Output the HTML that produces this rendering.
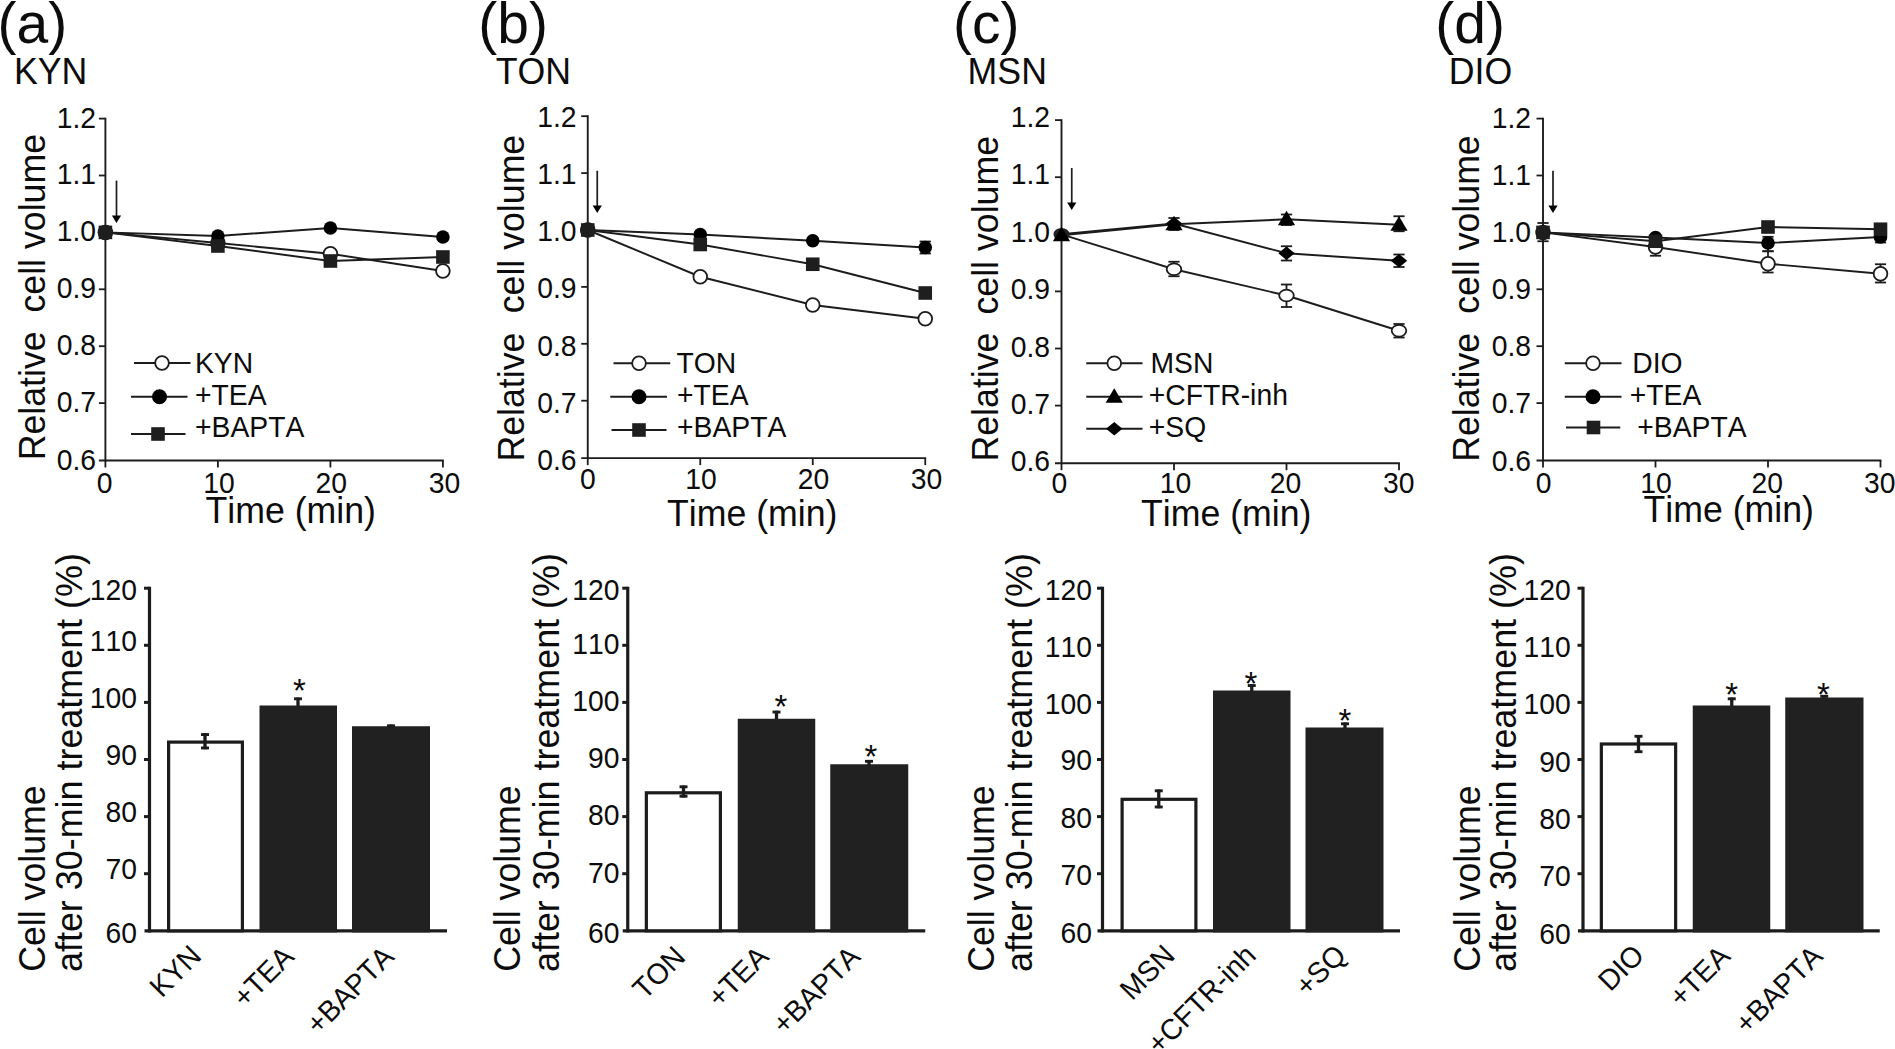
<!DOCTYPE html>
<html lang="en"><head><meta charset="utf-8"><title>Figure: relative cell volume</title>
<style>
html,body{margin:0;padding:0;background:#fff;}
body{width:1895px;height:1049px;overflow:hidden;}
svg{display:block;font-family:"Liberation Sans",Arial,Helvetica,sans-serif;}
svg text{fill:#0c0c0c;stroke:none;font-kerning:none;}
</style></head><body>
<svg width="1895" height="1049" viewBox="0 0 1895 1049" stroke="#1c1c1c" fill="none">
<rect x="0" y="0" width="1895" height="1049" fill="#fff" stroke="none"/>
<line x1="105.40" y1="117.70" x2="105.40" y2="461.40" stroke-width="1.9"/>
<line x1="98.90" y1="460.50" x2="443.80" y2="460.50" stroke-width="1.9"/>
<line x1="98.90" y1="118.60" x2="105.40" y2="118.60" stroke-width="1.8"/>
<line x1="98.90" y1="175.50" x2="105.40" y2="175.50" stroke-width="1.8"/>
<line x1="98.90" y1="232.40" x2="105.40" y2="232.40" stroke-width="1.8"/>
<line x1="98.90" y1="289.30" x2="105.40" y2="289.30" stroke-width="1.8"/>
<line x1="98.90" y1="346.20" x2="105.40" y2="346.20" stroke-width="1.8"/>
<line x1="98.90" y1="403.10" x2="105.40" y2="403.10" stroke-width="1.8"/>
<line x1="105.40" y1="460.50" x2="105.40" y2="467.50" stroke-width="1.8"/>
<line x1="217.90" y1="460.50" x2="217.90" y2="467.50" stroke-width="1.8"/>
<line x1="330.40" y1="460.50" x2="330.40" y2="467.50" stroke-width="1.8"/>
<line x1="442.90" y1="460.50" x2="442.90" y2="467.50" stroke-width="1.8"/>
<text transform="translate(96.00,127.50) scale(1.0,1.04)" font-size="28.3" text-anchor="end">1.2</text>
<text transform="translate(96.00,184.30) scale(1.0,1.04)" font-size="28.3" text-anchor="end">1.1</text>
<text transform="translate(96.00,241.10) scale(1.0,1.04)" font-size="28.3" text-anchor="end">1.0</text>
<text transform="translate(96.00,297.90) scale(1.0,1.04)" font-size="28.3" text-anchor="end">0.9</text>
<text transform="translate(96.00,355.30) scale(1.0,1.04)" font-size="28.3" text-anchor="end">0.8</text>
<text transform="translate(96.00,412.10) scale(1.0,1.04)" font-size="28.3" text-anchor="end">0.7</text>
<text transform="translate(96.00,469.50) scale(1.0,1.04)" font-size="28.3" text-anchor="end">0.6</text>
<text transform="translate(104.50,492.50) scale(1.0,1.04)" font-size="28.3" text-anchor="middle">0</text>
<text transform="translate(219.00,492.50) scale(1.0,1.04)" font-size="28.3" text-anchor="middle">10</text>
<text transform="translate(331.20,492.50) scale(1.0,1.04)" font-size="28.3" text-anchor="middle">20</text>
<text transform="translate(444.50,492.50) scale(1.0,1.04)" font-size="28.3" text-anchor="middle">30</text>
<text transform="translate(205.50,522.50) scale(1.0,1.02)" font-size="35.7" text-anchor="start">Time (min)</text>
<text transform="translate(45.00,460.30) rotate(-90) scale(1.0,1.02)" font-size="35.7" text-anchor="start">Relative</text>
<text transform="translate(45.00,312.50) rotate(-90) scale(1.0,1.02)" font-size="35.7" text-anchor="start">cell volume</text>
<line x1="116.50" y1="180.60" x2="116.50" y2="217.00" stroke-width="1.7"/>
<path d="M111.90 215.40 L121.10 215.40 L116.50 223.00 Z" fill="#000" stroke="none"/>
<polyline points="105.40,232.40 217.90,243.00 330.40,253.75 442.90,271.00" fill="none" stroke-width="1.9"/>
<polyline points="105.40,232.40 217.90,236.00 330.40,228.00 442.90,237.00" fill="none" stroke-width="1.9"/>
<polyline points="105.40,232.40 217.90,246.00 330.40,261.00 442.90,257.00" fill="none" stroke-width="1.9"/>
<circle cx="105.40" cy="232.40" r="6.85" fill="#fff" stroke-width="1.8"/>
<circle cx="217.90" cy="243.00" r="6.85" fill="#fff" stroke-width="1.8"/>
<circle cx="330.40" cy="253.75" r="6.85" fill="#fff" stroke-width="1.8"/>
<circle cx="442.90" cy="271.00" r="6.85" fill="#fff" stroke-width="1.8"/>
<circle cx="105.40" cy="232.40" r="6.8" fill="#000" stroke="none"/>
<circle cx="217.90" cy="236.00" r="6.8" fill="#000" stroke="none"/>
<circle cx="330.40" cy="228.00" r="6.8" fill="#000" stroke="none"/>
<circle cx="442.90" cy="237.00" r="6.8" fill="#000" stroke="none"/>
<rect x="98.60" y="225.60" width="13.6" height="13.6" fill="#1e1e1e" stroke="none"/>
<rect x="211.10" y="239.20" width="13.6" height="13.6" fill="#1e1e1e" stroke="none"/>
<rect x="323.60" y="254.20" width="13.6" height="13.6" fill="#1e1e1e" stroke="none"/>
<rect x="436.10" y="250.20" width="13.6" height="13.6" fill="#1e1e1e" stroke="none"/>
<circle cx="105.40" cy="232.40" r="7.6" fill="#1e1e1e" stroke="none"/>
<line x1="134.00" y1="363.00" x2="190.50" y2="363.00" stroke-width="1.9"/>
<circle cx="162.00" cy="363.00" r="6.85" fill="#fff" stroke-width="1.8"/>
<text transform="translate(195.00,372.80) scale(1.0,1.03)" font-size="28.3" text-anchor="start">KYN</text>
<line x1="131.00" y1="396.75" x2="187.50" y2="396.75" stroke-width="1.9"/>
<circle cx="159.50" cy="396.75" r="7.5" fill="#000" stroke="none"/>
<text transform="translate(195.00,404.55) scale(1.0,1.03)" font-size="28.3" text-anchor="start">+TEA</text>
<line x1="131.00" y1="434.00" x2="185.50" y2="434.00" stroke-width="1.9"/>
<rect x="151.20" y="427.20" width="13.6" height="13.6" fill="#1e1e1e" stroke="none"/>
<text transform="translate(195.00,436.80) scale(1.0,1.03)" font-size="28.3" text-anchor="start">+BAPTA</text>
<line x1="587.75" y1="115.30" x2="587.75" y2="459.00" stroke-width="1.9"/>
<line x1="581.25" y1="458.10" x2="926.15" y2="458.10" stroke-width="1.9"/>
<line x1="581.25" y1="116.20" x2="587.75" y2="116.20" stroke-width="1.8"/>
<line x1="581.25" y1="173.10" x2="587.75" y2="173.10" stroke-width="1.8"/>
<line x1="581.25" y1="230.00" x2="587.75" y2="230.00" stroke-width="1.8"/>
<line x1="581.25" y1="286.90" x2="587.75" y2="286.90" stroke-width="1.8"/>
<line x1="581.25" y1="343.80" x2="587.75" y2="343.80" stroke-width="1.8"/>
<line x1="581.25" y1="400.70" x2="587.75" y2="400.70" stroke-width="1.8"/>
<line x1="587.75" y1="458.10" x2="587.75" y2="465.10" stroke-width="1.8"/>
<line x1="700.25" y1="458.10" x2="700.25" y2="465.10" stroke-width="1.8"/>
<line x1="812.75" y1="458.10" x2="812.75" y2="465.10" stroke-width="1.8"/>
<line x1="925.25" y1="458.10" x2="925.25" y2="465.10" stroke-width="1.8"/>
<text transform="translate(576.50,127.10) scale(1.0,1.04)" font-size="28.3" text-anchor="end">1.2</text>
<text transform="translate(576.50,184.00) scale(1.0,1.04)" font-size="28.3" text-anchor="end">1.1</text>
<text transform="translate(576.50,240.80) scale(1.0,1.04)" font-size="28.3" text-anchor="end">1.0</text>
<text transform="translate(576.50,297.90) scale(1.0,1.04)" font-size="28.3" text-anchor="end">0.9</text>
<text transform="translate(576.50,355.90) scale(1.0,1.04)" font-size="28.3" text-anchor="end">0.8</text>
<text transform="translate(576.50,412.60) scale(1.0,1.04)" font-size="28.3" text-anchor="end">0.7</text>
<text transform="translate(576.50,469.50) scale(1.0,1.04)" font-size="28.3" text-anchor="end">0.6</text>
<text transform="translate(587.75,489.00) scale(1.0,1.04)" font-size="28.3" text-anchor="middle">0</text>
<text transform="translate(701.00,489.00) scale(1.0,1.04)" font-size="28.3" text-anchor="middle">10</text>
<text transform="translate(813.50,489.00) scale(1.0,1.04)" font-size="28.3" text-anchor="middle">20</text>
<text transform="translate(926.50,489.00) scale(1.0,1.04)" font-size="28.3" text-anchor="middle">30</text>
<text transform="translate(667.00,525.50) scale(1.0,1.02)" font-size="35.7" text-anchor="start">Time (min)</text>
<text transform="translate(524.00,461.60) rotate(-90) scale(1.0,1.02)" font-size="35.7" text-anchor="start">Relative</text>
<text transform="translate(524.00,313.30) rotate(-90) scale(1.0,1.02)" font-size="35.7" text-anchor="start">cell volume</text>
<line x1="597.25" y1="170.75" x2="597.25" y2="207.00" stroke-width="1.7"/>
<path d="M592.65 205.40 L601.85 205.40 L597.25 213.00 Z" fill="#000" stroke="none"/>
<polyline points="587.75,230.00 700.25,276.75 812.75,305.00 925.25,318.75" fill="none" stroke-width="1.9"/>
<polyline points="587.75,230.00 700.25,234.50 812.75,240.75 925.25,247.50" fill="none" stroke-width="1.9"/>
<polyline points="587.75,230.00 700.25,244.50 812.75,264.25 925.25,293.00" fill="none" stroke-width="1.9"/>
<circle cx="587.75" cy="230.00" r="6.85" fill="#fff" stroke-width="1.8"/>
<circle cx="700.25" cy="276.75" r="6.85" fill="#fff" stroke-width="1.8"/>
<circle cx="812.75" cy="305.00" r="6.85" fill="#fff" stroke-width="1.8"/>
<circle cx="925.25" cy="318.75" r="6.85" fill="#fff" stroke-width="1.8"/>
<line x1="925.25" y1="241.50" x2="925.25" y2="253.50" stroke-width="1.8"/>
<line x1="919.65" y1="241.50" x2="930.85" y2="241.50" stroke-width="1.8"/>
<line x1="919.65" y1="253.50" x2="930.85" y2="253.50" stroke-width="1.8"/>
<circle cx="587.75" cy="230.00" r="6.8" fill="#000" stroke="none"/>
<circle cx="700.25" cy="234.50" r="6.8" fill="#000" stroke="none"/>
<circle cx="812.75" cy="240.75" r="6.8" fill="#000" stroke="none"/>
<circle cx="925.25" cy="247.50" r="6.8" fill="#000" stroke="none"/>
<rect x="580.95" y="223.20" width="13.6" height="13.6" fill="#1e1e1e" stroke="none"/>
<rect x="693.45" y="237.70" width="13.6" height="13.6" fill="#1e1e1e" stroke="none"/>
<rect x="805.95" y="257.45" width="13.6" height="13.6" fill="#1e1e1e" stroke="none"/>
<rect x="918.45" y="286.20" width="13.6" height="13.6" fill="#1e1e1e" stroke="none"/>
<circle cx="587.75" cy="230.00" r="7.6" fill="#1e1e1e" stroke="none"/>
<line x1="613.50" y1="363.25" x2="670.25" y2="363.25" stroke-width="1.9"/>
<circle cx="639.00" cy="363.25" r="6.85" fill="#fff" stroke-width="1.8"/>
<text transform="translate(676.50,372.80) scale(1.0,1.03)" font-size="28.3" text-anchor="start">TON</text>
<line x1="610.25" y1="396.75" x2="667.00" y2="396.75" stroke-width="1.9"/>
<circle cx="639.00" cy="396.75" r="7.5" fill="#000" stroke="none"/>
<text transform="translate(677.00,404.55) scale(1.0,1.03)" font-size="28.3" text-anchor="start">+TEA</text>
<line x1="611.50" y1="430.00" x2="666.50" y2="430.00" stroke-width="1.9"/>
<rect x="632.20" y="423.20" width="13.6" height="13.6" fill="#1e1e1e" stroke="none"/>
<text transform="translate(677.00,437.05) scale(1.0,1.03)" font-size="28.3" text-anchor="start">+BAPTA</text>
<line x1="1061.50" y1="119.20" x2="1061.50" y2="464.10" stroke-width="1.9"/>
<line x1="1055.00" y1="463.20" x2="1399.90" y2="463.20" stroke-width="1.9"/>
<line x1="1055.00" y1="120.10" x2="1061.50" y2="120.10" stroke-width="1.8"/>
<line x1="1055.00" y1="177.20" x2="1061.50" y2="177.20" stroke-width="1.8"/>
<line x1="1055.00" y1="234.30" x2="1061.50" y2="234.30" stroke-width="1.8"/>
<line x1="1055.00" y1="291.40" x2="1061.50" y2="291.40" stroke-width="1.8"/>
<line x1="1055.00" y1="348.50" x2="1061.50" y2="348.50" stroke-width="1.8"/>
<line x1="1055.00" y1="405.60" x2="1061.50" y2="405.60" stroke-width="1.8"/>
<line x1="1061.50" y1="463.20" x2="1061.50" y2="470.20" stroke-width="1.8"/>
<line x1="1174.00" y1="463.20" x2="1174.00" y2="470.20" stroke-width="1.8"/>
<line x1="1286.50" y1="463.20" x2="1286.50" y2="470.20" stroke-width="1.8"/>
<line x1="1399.00" y1="463.20" x2="1399.00" y2="470.20" stroke-width="1.8"/>
<text transform="translate(1050.00,126.50) scale(1.0,1.04)" font-size="28.3" text-anchor="end">1.2</text>
<text transform="translate(1050.00,184.20) scale(1.0,1.04)" font-size="28.3" text-anchor="end">1.1</text>
<text transform="translate(1050.00,241.85) scale(1.0,1.04)" font-size="28.3" text-anchor="end">1.0</text>
<text transform="translate(1050.00,298.60) scale(1.0,1.04)" font-size="28.3" text-anchor="end">0.9</text>
<text transform="translate(1050.00,356.80) scale(1.0,1.04)" font-size="28.3" text-anchor="end">0.8</text>
<text transform="translate(1050.00,413.80) scale(1.0,1.04)" font-size="28.3" text-anchor="end">0.7</text>
<text transform="translate(1050.00,471.10) scale(1.0,1.04)" font-size="28.3" text-anchor="end">0.6</text>
<text transform="translate(1059.30,492.80) scale(1.0,1.04)" font-size="28.3" text-anchor="middle">0</text>
<text transform="translate(1175.50,492.80) scale(1.0,1.04)" font-size="28.3" text-anchor="middle">10</text>
<text transform="translate(1285.50,492.80) scale(1.0,1.04)" font-size="28.3" text-anchor="middle">20</text>
<text transform="translate(1398.75,492.80) scale(1.0,1.04)" font-size="28.3" text-anchor="middle">30</text>
<text transform="translate(1141.00,525.50) scale(1.0,1.02)" font-size="35.7" text-anchor="start">Time (min)</text>
<text transform="translate(998.00,461.50) rotate(-90) scale(1.0,1.02)" font-size="35.7" text-anchor="start">Relative</text>
<text transform="translate(998.00,314.50) rotate(-90) scale(1.0,1.02)" font-size="35.7" text-anchor="start">cell volume</text>
<line x1="1071.75" y1="168.00" x2="1071.75" y2="204.00" stroke-width="1.7"/>
<path d="M1067.15 202.40 L1076.35 202.40 L1071.75 210.00 Z" fill="#000" stroke="none"/>
<polyline points="1061.50,234.30 1174.00,269.25 1286.50,295.50 1399.00,330.75" fill="none" stroke-width="1.9"/>
<polyline points="1061.50,234.30 1174.00,223.50 1286.50,253.25 1399.00,260.75" fill="none" stroke-width="1.9"/>
<polyline points="1061.50,235.30 1174.00,224.30 1286.50,219.30 1399.00,224.80" fill="none" stroke-width="1.9"/>
<line x1="1174.00" y1="261.75" x2="1174.00" y2="276.25" stroke-width="1.8"/>
<line x1="1168.40" y1="261.75" x2="1179.60" y2="261.75" stroke-width="1.8"/>
<line x1="1168.40" y1="276.25" x2="1179.60" y2="276.25" stroke-width="1.8"/>
<line x1="1286.50" y1="284.50" x2="1286.50" y2="307.00" stroke-width="1.8"/>
<line x1="1280.90" y1="284.50" x2="1292.10" y2="284.50" stroke-width="1.8"/>
<line x1="1280.90" y1="307.00" x2="1292.10" y2="307.00" stroke-width="1.8"/>
<line x1="1399.00" y1="324.00" x2="1399.00" y2="337.50" stroke-width="1.8"/>
<line x1="1393.40" y1="324.00" x2="1404.60" y2="324.00" stroke-width="1.8"/>
<line x1="1393.40" y1="337.50" x2="1404.60" y2="337.50" stroke-width="1.8"/>
<ellipse cx="1061.50" cy="234.30" rx="8" ry="6.3" fill="#222" stroke="none"/>
<ellipse cx="1174.00" cy="269.25" rx="7.3" ry="5.9" fill="#fff" stroke-width="1.8"/>
<ellipse cx="1286.50" cy="295.50" rx="7.3" ry="5.9" fill="#fff" stroke-width="1.8"/>
<ellipse cx="1399.00" cy="330.75" rx="7.3" ry="5.9" fill="#fff" stroke-width="1.8"/>
<line x1="1286.50" y1="246.25" x2="1286.50" y2="260.50" stroke-width="1.8"/>
<line x1="1280.90" y1="246.25" x2="1292.10" y2="246.25" stroke-width="1.8"/>
<line x1="1280.90" y1="260.50" x2="1292.10" y2="260.50" stroke-width="1.8"/>
<line x1="1399.00" y1="254.50" x2="1399.00" y2="267.00" stroke-width="1.8"/>
<line x1="1393.40" y1="254.50" x2="1404.60" y2="254.50" stroke-width="1.8"/>
<line x1="1393.40" y1="267.00" x2="1404.60" y2="267.00" stroke-width="1.8"/>
<path d="M1174.00 216.70 L1182.20 223.50 L1174.00 230.30 L1165.80 223.50 Z" fill="#000" stroke="none"/>
<path d="M1286.50 246.45 L1294.70 253.25 L1286.50 260.05 L1278.30 253.25 Z" fill="#000" stroke="none"/>
<path d="M1399.00 253.95 L1407.20 260.75 L1399.00 267.55 L1390.80 260.75 Z" fill="#000" stroke="none"/>
<line x1="1174.00" y1="218.00" x2="1174.00" y2="230.00" stroke-width="1.8"/>
<line x1="1168.40" y1="218.00" x2="1179.60" y2="218.00" stroke-width="1.8"/>
<line x1="1168.40" y1="230.00" x2="1179.60" y2="230.00" stroke-width="1.8"/>
<line x1="1286.50" y1="214.50" x2="1286.50" y2="225.00" stroke-width="1.8"/>
<line x1="1280.90" y1="214.50" x2="1292.10" y2="214.50" stroke-width="1.8"/>
<line x1="1280.90" y1="225.00" x2="1292.10" y2="225.00" stroke-width="1.8"/>
<line x1="1399.00" y1="216.25" x2="1399.00" y2="231.25" stroke-width="1.8"/>
<line x1="1393.40" y1="216.25" x2="1404.60" y2="216.25" stroke-width="1.8"/>
<line x1="1393.40" y1="231.25" x2="1404.60" y2="231.25" stroke-width="1.8"/>
<path d="M1061.50 226.80 L1070.10 241.30 L1052.90 241.30 Z" fill="#000" stroke="none"/>
<path d="M1174.00 215.80 L1182.60 230.30 L1165.40 230.30 Z" fill="#000" stroke="none"/>
<path d="M1286.50 210.80 L1295.10 225.30 L1277.90 225.30 Z" fill="#000" stroke="none"/>
<path d="M1399.00 216.30 L1407.60 230.80 L1390.40 230.80 Z" fill="#000" stroke="none"/>
<line x1="1086.25" y1="363.25" x2="1142.50" y2="363.25" stroke-width="1.9"/>
<circle cx="1114.25" cy="363.25" r="6.85" fill="#fff" stroke-width="1.8"/>
<text transform="translate(1150.50,372.80) scale(1.0,1.03)" font-size="28.3" text-anchor="start">MSN</text>
<line x1="1086.25" y1="396.75" x2="1142.50" y2="396.75" stroke-width="1.9"/>
<path d="M1114.25 388.25 L1122.85 402.75 L1105.65 402.75 Z" fill="#000" stroke="none"/>
<text transform="translate(1148.75,404.55) scale(1.0,1.03)" font-size="28.3" text-anchor="start">+CFTR-inh</text>
<line x1="1086.25" y1="428.75" x2="1142.50" y2="428.75" stroke-width="1.9"/>
<path d="M1114.25 421.95 L1122.45 428.75 L1114.25 435.55 L1106.05 428.75 Z" fill="#000" stroke="none"/>
<text transform="translate(1148.75,437.05) scale(1.0,1.03)" font-size="28.3" text-anchor="start">+SQ</text>
<line x1="1543.00" y1="117.70" x2="1543.00" y2="461.40" stroke-width="1.9"/>
<line x1="1536.50" y1="460.50" x2="1881.40" y2="460.50" stroke-width="1.9"/>
<line x1="1536.50" y1="118.60" x2="1543.00" y2="118.60" stroke-width="1.8"/>
<line x1="1536.50" y1="175.50" x2="1543.00" y2="175.50" stroke-width="1.8"/>
<line x1="1536.50" y1="232.40" x2="1543.00" y2="232.40" stroke-width="1.8"/>
<line x1="1536.50" y1="289.30" x2="1543.00" y2="289.30" stroke-width="1.8"/>
<line x1="1536.50" y1="346.20" x2="1543.00" y2="346.20" stroke-width="1.8"/>
<line x1="1536.50" y1="403.10" x2="1543.00" y2="403.10" stroke-width="1.8"/>
<line x1="1543.00" y1="460.50" x2="1543.00" y2="467.50" stroke-width="1.8"/>
<line x1="1655.50" y1="460.50" x2="1655.50" y2="467.50" stroke-width="1.8"/>
<line x1="1768.00" y1="460.50" x2="1768.00" y2="467.50" stroke-width="1.8"/>
<line x1="1880.50" y1="460.50" x2="1880.50" y2="467.50" stroke-width="1.8"/>
<text transform="translate(1531.00,127.50) scale(1.0,1.04)" font-size="28.3" text-anchor="end">1.2</text>
<text transform="translate(1531.00,184.85) scale(1.0,1.04)" font-size="28.3" text-anchor="end">1.1</text>
<text transform="translate(1531.00,241.50) scale(1.0,1.04)" font-size="28.3" text-anchor="end">1.0</text>
<text transform="translate(1531.00,298.50) scale(1.0,1.04)" font-size="28.3" text-anchor="end">0.9</text>
<text transform="translate(1531.00,356.30) scale(1.0,1.04)" font-size="28.3" text-anchor="end">0.8</text>
<text transform="translate(1531.00,413.40) scale(1.0,1.04)" font-size="28.3" text-anchor="end">0.7</text>
<text transform="translate(1531.00,471.00) scale(1.0,1.04)" font-size="28.3" text-anchor="end">0.6</text>
<text transform="translate(1543.50,492.50) scale(1.0,1.04)" font-size="28.3" text-anchor="middle">0</text>
<text transform="translate(1656.00,492.50) scale(1.0,1.04)" font-size="28.3" text-anchor="middle">10</text>
<text transform="translate(1767.25,492.50) scale(1.0,1.04)" font-size="28.3" text-anchor="middle">20</text>
<text transform="translate(1879.75,492.50) scale(1.0,1.04)" font-size="28.3" text-anchor="middle">30</text>
<text transform="translate(1643.50,522.00) scale(1.0,1.02)" font-size="35.7" text-anchor="start">Time (min)</text>
<text transform="translate(1479.00,461.80) rotate(-90) scale(1.0,1.02)" font-size="35.7" text-anchor="start">Relative</text>
<text transform="translate(1479.00,313.80) rotate(-90) scale(1.0,1.02)" font-size="35.7" text-anchor="start">cell volume</text>
<line x1="1553.00" y1="170.75" x2="1553.00" y2="207.00" stroke-width="1.7"/>
<path d="M1548.40 205.40 L1557.60 205.40 L1553.00 213.00 Z" fill="#000" stroke="none"/>
<polyline points="1543.00,232.40 1655.50,247.00 1768.00,263.75 1880.50,273.75" fill="none" stroke-width="1.9"/>
<polyline points="1543.00,232.40 1655.50,237.50 1768.00,243.00 1880.50,237.00" fill="none" stroke-width="1.9"/>
<polyline points="1543.00,232.40 1655.50,241.25 1768.00,227.00 1880.50,229.25" fill="none" stroke-width="1.9"/>
<line x1="1543.00" y1="223.00" x2="1543.00" y2="241.25" stroke-width="1.8"/>
<line x1="1537.40" y1="223.00" x2="1548.60" y2="223.00" stroke-width="1.8"/>
<line x1="1537.40" y1="241.25" x2="1548.60" y2="241.25" stroke-width="1.8"/>
<line x1="1655.50" y1="238.75" x2="1655.50" y2="255.75" stroke-width="1.8"/>
<line x1="1649.90" y1="238.75" x2="1661.10" y2="238.75" stroke-width="1.8"/>
<line x1="1649.90" y1="255.75" x2="1661.10" y2="255.75" stroke-width="1.8"/>
<line x1="1768.00" y1="251.25" x2="1768.00" y2="272.50" stroke-width="1.8"/>
<line x1="1762.40" y1="251.25" x2="1773.60" y2="251.25" stroke-width="1.8"/>
<line x1="1762.40" y1="272.50" x2="1773.60" y2="272.50" stroke-width="1.8"/>
<line x1="1880.50" y1="264.25" x2="1880.50" y2="282.50" stroke-width="1.8"/>
<line x1="1874.90" y1="264.25" x2="1886.10" y2="264.25" stroke-width="1.8"/>
<line x1="1874.90" y1="282.50" x2="1886.10" y2="282.50" stroke-width="1.8"/>
<circle cx="1543.00" cy="232.40" r="6.85" fill="#fff" stroke-width="1.8"/>
<circle cx="1655.50" cy="247.00" r="6.85" fill="#fff" stroke-width="1.8"/>
<circle cx="1768.00" cy="263.75" r="6.85" fill="#fff" stroke-width="1.8"/>
<circle cx="1880.50" cy="273.75" r="6.85" fill="#fff" stroke-width="1.8"/>
<line x1="1768.00" y1="236.80" x2="1768.00" y2="251.25" stroke-width="1.8"/>
<line x1="1762.40" y1="236.80" x2="1773.60" y2="236.80" stroke-width="1.8"/>
<line x1="1762.40" y1="251.25" x2="1773.60" y2="251.25" stroke-width="1.8"/>
<line x1="1880.50" y1="231.50" x2="1880.50" y2="242.50" stroke-width="1.8"/>
<line x1="1874.90" y1="231.50" x2="1886.10" y2="231.50" stroke-width="1.8"/>
<line x1="1874.90" y1="242.50" x2="1886.10" y2="242.50" stroke-width="1.8"/>
<circle cx="1543.00" cy="232.40" r="6.8" fill="#000" stroke="none"/>
<circle cx="1655.50" cy="237.50" r="6.8" fill="#000" stroke="none"/>
<circle cx="1768.00" cy="243.00" r="6.8" fill="#000" stroke="none"/>
<circle cx="1880.50" cy="237.00" r="6.8" fill="#000" stroke="none"/>
<rect x="1536.20" y="225.60" width="13.6" height="13.6" fill="#1e1e1e" stroke="none"/>
<rect x="1648.70" y="234.45" width="13.6" height="13.6" fill="#1e1e1e" stroke="none"/>
<rect x="1761.20" y="220.20" width="13.6" height="13.6" fill="#1e1e1e" stroke="none"/>
<rect x="1873.70" y="222.45" width="13.6" height="13.6" fill="#1e1e1e" stroke="none"/>
<line x1="1564.75" y1="363.25" x2="1621.50" y2="363.25" stroke-width="1.9"/>
<circle cx="1593.00" cy="363.25" r="6.85" fill="#fff" stroke-width="1.8"/>
<text transform="translate(1632.25,372.80) scale(1.0,1.03)" font-size="28.3" text-anchor="start">DIO</text>
<line x1="1564.75" y1="396.75" x2="1621.50" y2="396.75" stroke-width="1.9"/>
<circle cx="1593.00" cy="396.75" r="7.5" fill="#000" stroke="none"/>
<text transform="translate(1629.75,404.55) scale(1.0,1.03)" font-size="28.3" text-anchor="start">+TEA</text>
<line x1="1566.00" y1="427.50" x2="1620.25" y2="427.50" stroke-width="1.9"/>
<rect x="1586.70" y="420.70" width="13.6" height="13.6" fill="#1e1e1e" stroke="none"/>
<text transform="translate(1637.25,437.05) scale(1.0,1.03)" font-size="28.3" text-anchor="start">+BAPTA</text>
<line x1="149.50" y1="586.70" x2="149.50" y2="932.40" stroke-width="3.2"/>
<line x1="144.50" y1="930.80" x2="447.00" y2="930.80" stroke-width="3.2"/>
<line x1="144.00" y1="588.20" x2="149.50" y2="588.20" stroke-width="3.0"/>
<line x1="144.00" y1="645.30" x2="149.50" y2="645.30" stroke-width="3.0"/>
<line x1="144.00" y1="702.40" x2="149.50" y2="702.40" stroke-width="3.0"/>
<line x1="144.00" y1="759.50" x2="149.50" y2="759.50" stroke-width="3.0"/>
<line x1="144.00" y1="816.60" x2="149.50" y2="816.60" stroke-width="3.0"/>
<line x1="144.00" y1="873.70" x2="149.50" y2="873.70" stroke-width="3.0"/>
<text transform="translate(137.00,599.80) scale(1.0,1.04)" font-size="28.3" text-anchor="end">120</text>
<text transform="translate(137.00,650.50) scale(1.0,1.04)" font-size="28.3" text-anchor="end">110</text>
<text transform="translate(137.00,707.50) scale(1.0,1.04)" font-size="28.3" text-anchor="end">100</text>
<text transform="translate(137.00,764.80) scale(1.0,1.04)" font-size="28.3" text-anchor="end">90</text>
<text transform="translate(137.00,822.30) scale(1.0,1.04)" font-size="28.3" text-anchor="end">80</text>
<text transform="translate(137.00,879.00) scale(1.0,1.04)" font-size="28.3" text-anchor="end">70</text>
<text transform="translate(137.00,943.20) scale(1.0,1.04)" font-size="28.3" text-anchor="end">60</text>
<rect x="168.60" y="742.10" width="73.80" height="188.70" fill="#fff" stroke-width="3.2"/>
<rect x="259.50" y="705.50" width="77.50" height="226.90" fill="#212121" stroke="none"/>
<rect x="352.00" y="726.25" width="78.00" height="206.15" fill="#212121" stroke="none"/>
<line x1="205.00" y1="733.25" x2="205.00" y2="749.25" stroke-width="3.3"/>
<line x1="201.00" y1="734.55" x2="209.00" y2="734.55" stroke-width="2.9"/>
<line x1="201.00" y1="747.95" x2="209.00" y2="747.95" stroke-width="2.9"/>
<line x1="298.00" y1="697.50" x2="298.00" y2="706.00" stroke-width="3.3"/>
<line x1="294.00" y1="698.80" x2="302.00" y2="698.80" stroke-width="2.9"/>
<line x1="391.00" y1="724.50" x2="391.00" y2="727.00" stroke-width="3.3"/>
<line x1="387.00" y1="725.80" x2="395.00" y2="725.80" stroke-width="2.9"/>
<text transform="translate(299.50,702.00)" font-size="33" text-anchor="middle">*</text>
<text transform="translate(203.00,957.50) rotate(-45) scale(1.0,1.03)" font-size="28.3" text-anchor="end">KYN</text>
<text transform="translate(295.50,958.50) rotate(-45) scale(1.0,1.03)" font-size="28.3" text-anchor="end">+TEA</text>
<text transform="translate(395.50,958.50) rotate(-45) scale(1.0,1.03)" font-size="28.3" text-anchor="end">+BAPTA</text>
<text transform="translate(45.00,971.80) rotate(-90) scale(1.0,1.02)" font-size="35.7" text-anchor="start">Cell volume</text>
<text transform="translate(82.00,972.00) rotate(-90) scale(1.0,1.02)" font-size="35.900000000000006" text-anchor="start">after 30-min treatment (%)</text>
<line x1="627.75" y1="586.70" x2="627.75" y2="932.40" stroke-width="3.2"/>
<line x1="622.75" y1="930.80" x2="925.25" y2="930.80" stroke-width="3.2"/>
<line x1="622.25" y1="588.20" x2="627.75" y2="588.20" stroke-width="3.0"/>
<line x1="622.25" y1="645.30" x2="627.75" y2="645.30" stroke-width="3.0"/>
<line x1="622.25" y1="702.40" x2="627.75" y2="702.40" stroke-width="3.0"/>
<line x1="622.25" y1="759.50" x2="627.75" y2="759.50" stroke-width="3.0"/>
<line x1="622.25" y1="816.60" x2="627.75" y2="816.60" stroke-width="3.0"/>
<line x1="622.25" y1="873.70" x2="627.75" y2="873.70" stroke-width="3.0"/>
<text transform="translate(619.50,600.20) scale(1.0,1.04)" font-size="28.3" text-anchor="end">120</text>
<text transform="translate(619.50,654.00) scale(1.0,1.04)" font-size="28.3" text-anchor="end">110</text>
<text transform="translate(619.50,711.00) scale(1.0,1.04)" font-size="28.3" text-anchor="end">100</text>
<text transform="translate(619.50,768.20) scale(1.0,1.04)" font-size="28.3" text-anchor="end">90</text>
<text transform="translate(619.50,825.30) scale(1.0,1.04)" font-size="28.3" text-anchor="end">80</text>
<text transform="translate(619.50,882.60) scale(1.0,1.04)" font-size="28.3" text-anchor="end">70</text>
<text transform="translate(619.50,943.20) scale(1.0,1.04)" font-size="28.3" text-anchor="end">60</text>
<rect x="646.35" y="792.80" width="74.05" height="138.00" fill="#fff" stroke-width="3.2"/>
<rect x="737.75" y="718.75" width="77.50" height="213.65" fill="#212121" stroke="none"/>
<rect x="830.25" y="764.25" width="78.00" height="168.15" fill="#212121" stroke="none"/>
<line x1="683.50" y1="785.50" x2="683.50" y2="797.50" stroke-width="3.3"/>
<line x1="679.50" y1="786.80" x2="687.50" y2="786.80" stroke-width="2.9"/>
<line x1="679.50" y1="796.20" x2="687.50" y2="796.20" stroke-width="2.9"/>
<line x1="776.50" y1="710.75" x2="776.50" y2="719.00" stroke-width="3.3"/>
<line x1="772.50" y1="712.05" x2="780.50" y2="712.05" stroke-width="2.9"/>
<line x1="869.00" y1="760.00" x2="869.00" y2="765.00" stroke-width="3.3"/>
<line x1="865.00" y1="761.30" x2="873.00" y2="761.30" stroke-width="2.9"/>
<text transform="translate(781.00,718.00)" font-size="33" text-anchor="middle">*</text>
<text transform="translate(871.00,768.00)" font-size="33" text-anchor="middle">*</text>
<text transform="translate(687.00,958.50) rotate(-45) scale(1.0,1.03)" font-size="28.3" text-anchor="end">TON</text>
<text transform="translate(770.25,958.50) rotate(-45) scale(1.0,1.03)" font-size="28.3" text-anchor="end">+TEA</text>
<text transform="translate(861.80,958.50) rotate(-45) scale(1.0,1.03)" font-size="28.3" text-anchor="end">+BAPTA</text>
<text transform="translate(520.00,971.80) rotate(-90) scale(1.0,1.02)" font-size="35.7" text-anchor="start">Cell volume</text>
<text transform="translate(559.00,972.00) rotate(-90) scale(1.0,1.02)" font-size="35.900000000000006" text-anchor="start">after 30-min treatment (%)</text>
<line x1="1102.50" y1="586.70" x2="1102.50" y2="932.40" stroke-width="3.2"/>
<line x1="1097.50" y1="930.80" x2="1400.00" y2="930.80" stroke-width="3.2"/>
<line x1="1097.00" y1="588.20" x2="1102.50" y2="588.20" stroke-width="3.0"/>
<line x1="1097.00" y1="645.30" x2="1102.50" y2="645.30" stroke-width="3.0"/>
<line x1="1097.00" y1="702.40" x2="1102.50" y2="702.40" stroke-width="3.0"/>
<line x1="1097.00" y1="759.50" x2="1102.50" y2="759.50" stroke-width="3.0"/>
<line x1="1097.00" y1="816.60" x2="1102.50" y2="816.60" stroke-width="3.0"/>
<line x1="1097.00" y1="873.70" x2="1102.50" y2="873.70" stroke-width="3.0"/>
<text transform="translate(1092.00,600.20) scale(1.0,1.04)" font-size="28.3" text-anchor="end">120</text>
<text transform="translate(1092.00,656.70) scale(1.0,1.04)" font-size="28.3" text-anchor="end">110</text>
<text transform="translate(1092.00,713.50) scale(1.0,1.04)" font-size="28.3" text-anchor="end">100</text>
<text transform="translate(1092.00,770.00) scale(1.0,1.04)" font-size="28.3" text-anchor="end">90</text>
<text transform="translate(1092.00,828.00) scale(1.0,1.04)" font-size="28.3" text-anchor="end">80</text>
<text transform="translate(1092.00,885.00) scale(1.0,1.04)" font-size="28.3" text-anchor="end">70</text>
<text transform="translate(1092.00,943.20) scale(1.0,1.04)" font-size="28.3" text-anchor="end">60</text>
<rect x="1122.10" y="799.30" width="73.80" height="131.50" fill="#fff" stroke-width="3.2"/>
<rect x="1213.00" y="690.50" width="77.50" height="241.90" fill="#212121" stroke="none"/>
<rect x="1305.50" y="727.50" width="78.00" height="204.90" fill="#212121" stroke="none"/>
<line x1="1158.75" y1="789.50" x2="1158.75" y2="808.25" stroke-width="3.3"/>
<line x1="1154.75" y1="790.80" x2="1162.75" y2="790.80" stroke-width="2.9"/>
<line x1="1154.75" y1="806.95" x2="1162.75" y2="806.95" stroke-width="2.9"/>
<line x1="1251.75" y1="684.25" x2="1251.75" y2="691.00" stroke-width="3.3"/>
<line x1="1247.75" y1="685.55" x2="1255.75" y2="685.55" stroke-width="2.9"/>
<line x1="1345.00" y1="722.50" x2="1345.00" y2="728.00" stroke-width="3.3"/>
<line x1="1341.00" y1="723.80" x2="1349.00" y2="723.80" stroke-width="2.9"/>
<text transform="translate(1251.00,694.50)" font-size="33" text-anchor="middle">*</text>
<text transform="translate(1345.00,732.00)" font-size="33" text-anchor="middle">*</text>
<text transform="translate(1176.50,957.00) rotate(-45) scale(1.0,1.03)" font-size="28.3" text-anchor="end">MSN</text>
<text transform="translate(1257.75,957.00) rotate(-45) scale(1.0,1.03)" font-size="28.3" text-anchor="end">+CFTR-inh</text>
<text transform="translate(1347.75,957.00) rotate(-45) scale(1.0,1.03)" font-size="28.3" text-anchor="end">+SQ</text>
<text transform="translate(994.25,971.80) rotate(-90) scale(1.0,1.02)" font-size="35.7" text-anchor="start">Cell volume</text>
<text transform="translate(1031.75,972.00) rotate(-90) scale(1.0,1.02)" font-size="35.900000000000006" text-anchor="start">after 30-min treatment (%)</text>
<line x1="1583.00" y1="586.70" x2="1583.00" y2="932.40" stroke-width="3.2"/>
<line x1="1578.00" y1="930.80" x2="1879.75" y2="930.80" stroke-width="3.2"/>
<line x1="1577.50" y1="588.20" x2="1583.00" y2="588.20" stroke-width="3.0"/>
<line x1="1577.50" y1="645.30" x2="1583.00" y2="645.30" stroke-width="3.0"/>
<line x1="1577.50" y1="702.40" x2="1583.00" y2="702.40" stroke-width="3.0"/>
<line x1="1577.50" y1="759.50" x2="1583.00" y2="759.50" stroke-width="3.0"/>
<line x1="1577.50" y1="816.60" x2="1583.00" y2="816.60" stroke-width="3.0"/>
<line x1="1577.50" y1="873.70" x2="1583.00" y2="873.70" stroke-width="3.0"/>
<text transform="translate(1570.75,600.40) scale(1.0,1.04)" font-size="28.3" text-anchor="end">120</text>
<text transform="translate(1570.75,657.20) scale(1.0,1.04)" font-size="28.3" text-anchor="end">110</text>
<text transform="translate(1570.75,714.10) scale(1.0,1.04)" font-size="28.3" text-anchor="end">100</text>
<text transform="translate(1570.75,771.50) scale(1.0,1.04)" font-size="28.3" text-anchor="end">90</text>
<text transform="translate(1570.75,829.20) scale(1.0,1.04)" font-size="28.3" text-anchor="end">80</text>
<text transform="translate(1570.75,886.20) scale(1.0,1.04)" font-size="28.3" text-anchor="end">70</text>
<text transform="translate(1570.75,944.00) scale(1.0,1.04)" font-size="28.3" text-anchor="end">60</text>
<rect x="1601.35" y="744.00" width="74.30" height="186.80" fill="#fff" stroke-width="3.2"/>
<rect x="1692.75" y="705.50" width="77.50" height="226.90" fill="#212121" stroke="none"/>
<rect x="1785.25" y="697.50" width="78.25" height="234.90" fill="#212121" stroke="none"/>
<line x1="1638.50" y1="735.00" x2="1638.50" y2="753.00" stroke-width="3.3"/>
<line x1="1634.50" y1="736.30" x2="1642.50" y2="736.30" stroke-width="2.9"/>
<line x1="1634.50" y1="751.70" x2="1642.50" y2="751.70" stroke-width="2.9"/>
<line x1="1731.75" y1="697.50" x2="1731.75" y2="706.00" stroke-width="3.3"/>
<line x1="1727.75" y1="698.80" x2="1735.75" y2="698.80" stroke-width="2.9"/>
<line x1="1824.25" y1="695.00" x2="1824.25" y2="698.00" stroke-width="3.3"/>
<line x1="1820.25" y1="696.30" x2="1828.25" y2="696.30" stroke-width="2.9"/>
<text transform="translate(1731.75,705.75)" font-size="33" text-anchor="middle">*</text>
<text transform="translate(1823.50,705.75)" font-size="33" text-anchor="middle">*</text>
<text transform="translate(1645.75,957.00) rotate(-45) scale(1.0,1.03)" font-size="28.3" text-anchor="end">DIO</text>
<text transform="translate(1731.75,958.00) rotate(-45) scale(1.0,1.03)" font-size="28.3" text-anchor="end">+TEA</text>
<text transform="translate(1824.25,958.00) rotate(-45) scale(1.0,1.03)" font-size="28.3" text-anchor="end">+BAPTA</text>
<text transform="translate(1479.75,971.80) rotate(-90) scale(1.0,1.02)" font-size="35.7" text-anchor="start">Cell volume</text>
<text transform="translate(1516.00,972.00) rotate(-90) scale(1.0,1.02)" font-size="35.900000000000006" text-anchor="start">after 30-min treatment (%)</text>
<text transform="translate(-2.50,42.50) scale(1.0,1.02)" font-size="57" text-anchor="start">(a)</text>
<text transform="translate(14.00,83.50) scale(1.0,1.02)" font-size="35.7" text-anchor="start">KYN</text>
<text transform="translate(478.30,42.50) scale(1.0,1.02)" font-size="57" text-anchor="start">(b)</text>
<text transform="translate(495.80,83.50) scale(1.0,1.02)" font-size="35.7" text-anchor="start">TON</text>
<text transform="translate(953.00,42.50) scale(1.0,1.02)" font-size="57" text-anchor="start">(c)</text>
<text transform="translate(967.60,83.50) scale(1.0,1.02)" font-size="35.7" text-anchor="start">MSN</text>
<text transform="translate(1435.30,42.50) scale(1.0,1.02)" font-size="57" text-anchor="start">(d)</text>
<text transform="translate(1448.80,83.50) scale(1.0,1.02)" font-size="35.7" text-anchor="start">DIO</text>
</svg>
</body></html>
